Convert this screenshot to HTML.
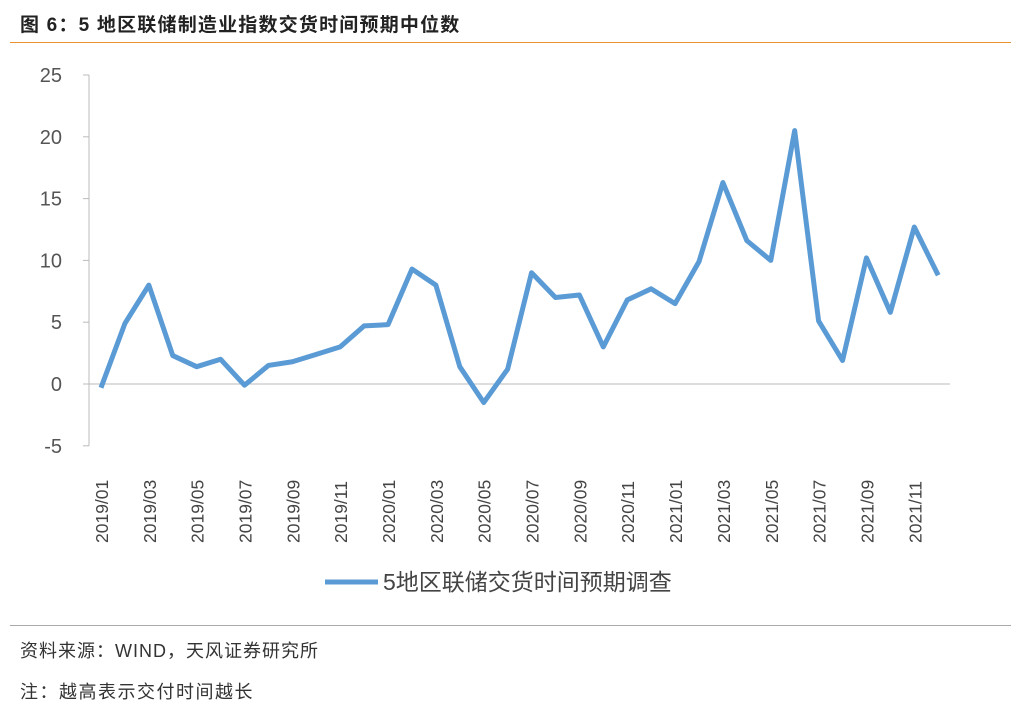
<!DOCTYPE html>
<html><head><meta charset="utf-8"><style>
body{margin:0;background:#fff;font-family:"Liberation Sans","Noto Sans CJK SC",sans-serif;}
#wrap{position:relative;width:1021px;height:711px;overflow:hidden}
</style></head><body>
<div id="wrap">
<div style="position:absolute;left:20px;top:10px;font-size:19px;letter-spacing:1.2px;font-weight:bold;color:#222">图 6：5 地区联储制造业指数交货时间预期中位数</div>
<div style="position:absolute;left:10px;top:42px;width:1001px;height:1px;background:#e8912d"></div>
<svg id="chart" width="1021" height="711" style="position:absolute;left:0;top:0"></svg>
<div style="position:absolute;left:10px;top:625px;width:1001px;height:1px;background:#aaa"></div>
<div style="position:absolute;left:20px;top:637px;font-size:18px;letter-spacing:1px;color:#333">资料来源：WIND，天风证券研究所</div>
<div style="position:absolute;left:20px;top:678px;font-size:18px;letter-spacing:1.5px;color:#333">注：越高表示交付时间越长</div>
</div>
<script>
const categories=["2019/01","2019/02","2019/03","2019/04","2019/05","2019/06","2019/07","2019/08","2019/09","2019/10","2019/11","2019/12","2020/01","2020/02","2020/03","2020/04","2020/05","2020/06","2020/07","2020/08","2020/09","2020/10","2020/11","2020/12","2021/01","2021/02","2021/03","2021/04","2021/05","2021/06","2021/07","2021/08","2021/09","2021/10","2021/11","2021/12"];
const values=[-0.3,4.9,8.0,2.3,1.4,2.0,-0.1,1.5,1.8,2.4,3.0,4.7,4.8,9.3,8.0,1.4,-1.5,1.2,9.0,7.0,7.2,3.0,6.8,7.7,6.5,9.9,16.3,11.6,10.0,20.5,5.1,1.9,10.2,5.8,12.7,8.8];
const yTicks=[-5,0,5,10,15,20,25];
const seriesName="5地区联储交货时间预期调查";
const svg=document.getElementById('chart');const NS="http://www.w3.org/2000/svg";
function mk(t,a){const e=document.createElementNS(NS,t);for(const k in a)e.setAttribute(k,a[k]);svg.appendChild(e);return e;}
const y=v=>384-v*12.36;
const x=i=>101+i*23.92;
yTicks.forEach(t=>{const e=mk('text',{x:62,y:y(t)+7,'text-anchor':'end','font-size':20,fill:'#555'});e.textContent=t;


const k=mk('line',{x1:83,x2:89,y1:y(t),y2:y(t),stroke:'#bbb'});

});
const ya=mk('line',{x1:89,x2:89,y1:y(25),y2:y(-5),stroke:'#bbb'});


const xa=mk('line',{x1:89,x2:950,y1:y(0),y2:y(0),stroke:'#bbb'});


categories.forEach((c,i)=>{if(i%2)return;const e=mk('text',{transform:`translate(${x(i)+7},543) rotate(-90)`,'font-size':17.5,fill:'#444'});e.textContent=c;

});
const p=mk('polyline',{points:values.map((v,i)=>x(i)+','+y(v)).join(' '),fill:'none',stroke:'#5b9bd5','stroke-width':5,'stroke-linejoin':'round'});


const ll=mk('line',{x1:325,x2:378,y1:582,y2:582,stroke:'#5b9bd5','stroke-width':5});


const lt=mk('text',{x:383,y:590,'font-size':23,fill:'#444'});lt.textContent=seriesName;


</script>
</body></html>
